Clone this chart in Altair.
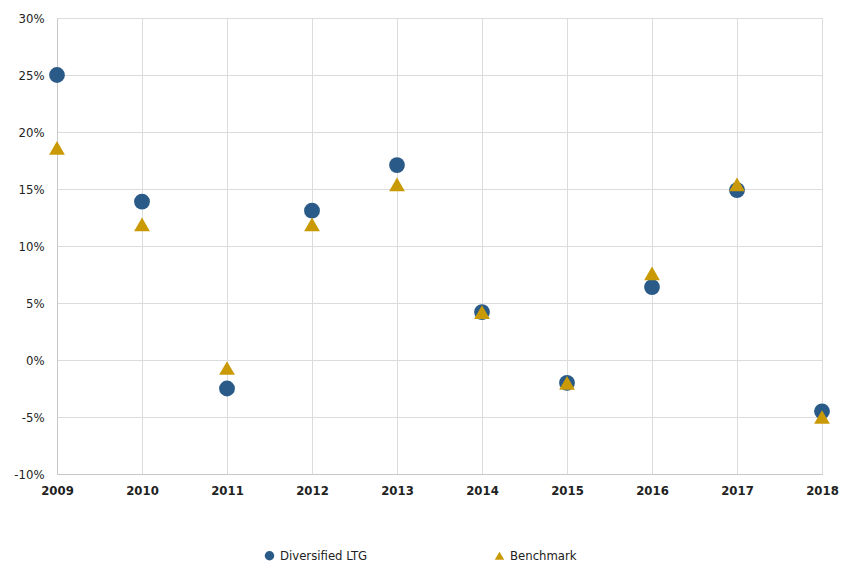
import altair as alt
import pandas as pd

years = [2009, 2010, 2011, 2012, 2013, 2014, 2015, 2016, 2017, 2018]
diversified = [25.0, 13.9, -2.5, 13.1, 17.1, 4.2, -2.0, 6.4, 14.9, -4.5]
benchmark = [18.6, 11.9, -0.7, 11.9, 15.4, 4.2, -2.0, 7.6, 15.4, -5.0]
series_names = ["Diversified LTG", "Benchmark"]
y_ticks = [-10, -5, 0, 5, 10, 15, 20, 25, 30]

rows = []
for y, v in zip(years, diversified):
    rows.append({"year": y, "value": v, "series": series_names[0]})
for y, v in zip(years, benchmark):
    rows.append({"year": y, "value": v, "series": series_names[1]})
df = pd.DataFrame(rows)

FONT = "DejaVu Sans Condensed, Liberation Sans Narrow, Roboto, sans-serif"

legend = alt.Legend(title=None, orient="none", direction="horizontal",
                    legendX=206, legendY=531, columnPadding=125,
                    labelFontSize=13, labelColor="#222222",
                    symbolSize=90, labelFont=FONT)

chart = alt.Chart(df).mark_point(filled=True, opacity=1, size=250).encode(
    x=alt.X("year:Q",
            scale=alt.Scale(domain=[2009, 2018], nice=False, zero=False),
            axis=alt.Axis(title=None, values=years, format="d", ticks=False,
                          labelFlush=False, labelPadding=10, labelFontWeight="bold",
                          labelFontSize=13, labelColor="#222222", gridColor="#dcdcdc",
                          domainColor="#c8c8c8")),
    y=alt.Y("value:Q",
            scale=alt.Scale(domain=[-10, 30], nice=False),
            axis=alt.Axis(title=None, labelExpr="datum.value + '%'",
                          values=y_ticks, labelOverlap=False,
                          ticks=False, labelPadding=13, labelFontSize=13,
                          labelColor="#222222", gridColor="#dcdcdc",
                          domainColor="#c8c8c8")),
    color=alt.Color("series:N",
                    scale=alt.Scale(domain=series_names, range=["#2a5a87", "#c99a06"]),
                    legend=legend),
    shape=alt.Shape("series:N",
                    scale=alt.Scale(domain=series_names, range=["circle", "triangle-up"]),
                    legend=legend),
    order=alt.Order("series:N", sort="descending"),
).properties(
    width=765, height=456,
    autosize=alt.AutoSizeParams(type="none"),
    padding={"left": 49, "top": 10, "right": 18, "bottom": 92},
).configure_axis(
    labelFont=FONT,
).configure_view(stroke=None)

chart.save("out.html", embed_options={"renderer": "svg", "actions": False})
